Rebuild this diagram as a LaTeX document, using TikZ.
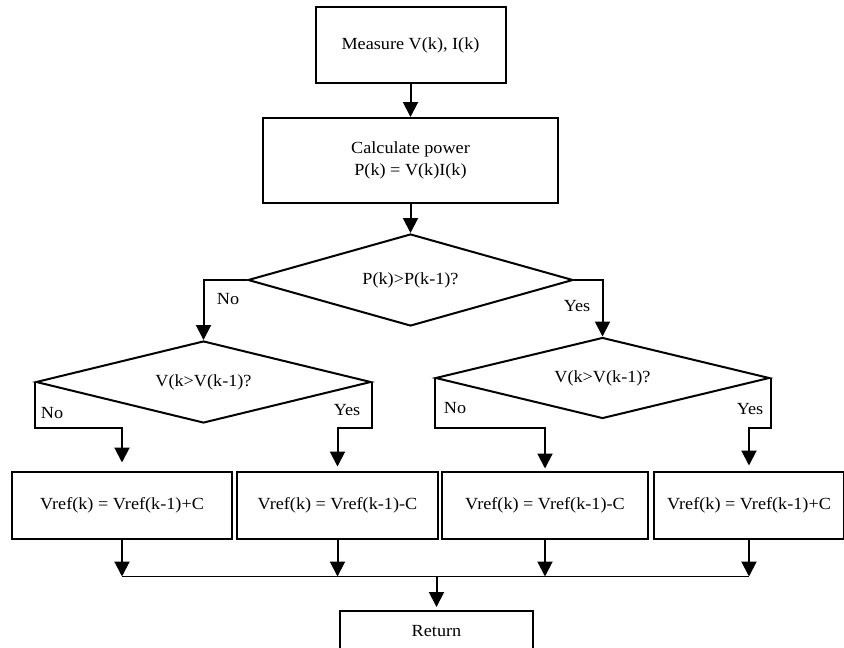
\documentclass[tikz,border=0pt]{standalone}
\usepackage{fontspec}
\setmainfont{Liberation Serif}[FakeStretch=1.07]
\usetikzlibrary{arrows.meta,shapes.geometric}
\begin{document}
\begin{tikzpicture}[x=1pt,y=-1pt,
  box/.style={draw, line width=2pt, inner sep=0pt, align=center},
  dec/.style={draw, diamond, line width=2pt, inner sep=0pt, aspect=3.5},
  flow/.style={line width=2pt, -{Triangle[width=15pt,length=15pt]}},
  bus/.style={line width=1.5pt},
  lab/.style={inner sep=0pt},
  font=\fontsize{17}{22}\selectfont]
\useasboundingbox (0,0) rectangle (844,648);
\clip (0,0) rectangle (844,648);

\node[box, minimum width=190pt, minimum height=76pt] (measure) at (410.5,45) {Measure V(k), I(k)};
\node[box, minimum width=295pt, minimum height=85pt] (calc) at (410.5,160.5) {Calculate power\\P(k) = V(k)I(k)};
\node[dec, minimum width=325pt, minimum height=92pt] (d1) at (410.5,280) {P(k)>P(k-1)?};
\node[dec, minimum width=335pt, minimum height=82pt] (d2) at (203.5,382) {V(k>V(k-1)?};
\node[dec, minimum width=334pt, minimum height=81pt] (d3) at (602.5,378) {V(k>V(k-1)?};

\node[box, minimum width=220pt, minimum height=67pt] (b1) at (122,505) {Vref(k) = Vref(k-1)+C};
\node[box, minimum width=201pt, minimum height=67pt] (b2) at (337.5,505) {Vref(k) = Vref(k-1)-C};
\node[box, minimum width=206pt, minimum height=67pt] (b3) at (545,505) {Vref(k) = Vref(k-1)-C};
\node[box, minimum width=190pt, minimum height=67pt] (b4) at (749,505) {Vref(k) = Vref(k-1)+C};
\node[box, minimum width=193pt, minimum height=40pt] (ret) at (436.5,631) {Return};

\draw[flow] (measure.south) -- (calc.north);
\draw[flow] (calc.south) -- (d1.north);
\draw[flow] (d1.west) -| (d2.north);
\draw[flow] (d1.east) -| (d3.north);
\node[lab] (no1) at (228,299) {No};
\node[lab] (yes1) at (577,306) {Yes};

\draw[flow] (d2.west) -- ++(0,46) -| ([yshift=8pt]b1.north);
\draw[flow] (d2.east) -- ++(0,46) -| ([yshift=4pt]b2.north);
\draw[flow] (d3.west) -- ++(0,50) -| ([yshift=2pt]b3.north);
\draw[flow] (d3.east) -- ++(0,50) -| ([yshift=5pt]b4.north);
\node[lab] (no2) at (52,413) {No};
\node[lab] (yes2) at (347,410) {Yes};
\node[lab] (no3) at (455,408) {No};
\node[lab] (yes3) at (750,409) {Yes};

\path (b1.south) ++(0,37) coordinate (m1);
\path (b4.south) ++(0,37) coordinate (m4);
\draw[flow] (b1.south) -- (m1);
\draw[flow] (b2.south) -- (b2.south |- m1);
\draw[flow] (b3.south) -- (b3.south |- m1);
\draw[flow] (b4.south) -- (m4);
\draw[bus] (m1) -- (m4);
\draw[flow] (m1 -| ret.north) -- ([yshift=3pt]ret.north);
\end{tikzpicture}
\end{document}
